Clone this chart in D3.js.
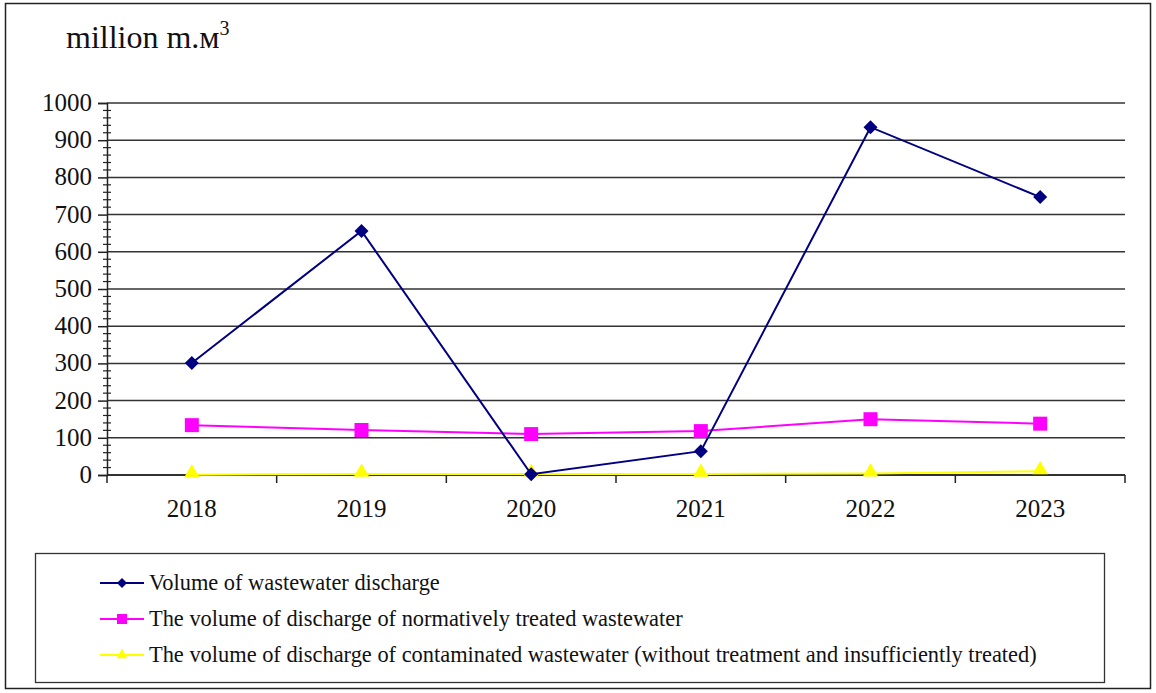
<!DOCTYPE html>
<html><head><meta charset="utf-8"><script src="https://cdn.jsdelivr.net/npm/d3@7"></script></head>
<body style="margin:0">
<svg id="chart" width="1156" height="693" style="font-family:'Liberation Serif'"></svg>
<script>
// Years on the horizontal axis
const years = ["2018", "2019", "2020", "2021", "2022", "2023"];

// Volumes, million m³
const totalDischarge = [301, 656, 2, 64, 935, 747];
const treatedDischarge = [134, 121, 110, 118, 150, 138];
const contaminatedDischarge = [1, 3, 3, 3, 4, 10];

const yTicks = [0, 100, 200, 300, 400, 500, 600, 700, 800, 900, 1000];

const seriesNames = [
  "Volume of wastewater discharge",
  "The volume of discharge of normatively treated wastewater",
  "The volume of discharge of contaminated wastewater (without treatment and insufficiently treated)"
];

const series = [
  { name: seriesNames[0], values: totalDischarge, color: "#000080", symbol: "diamond" },
  { name: seriesNames[1], values: treatedDischarge, color: "#ff00ff", symbol: "square" },
  { name: seriesNames[2], values: contaminatedDischarge, color: "#ffff00", symbol: "triangle" }
];

const FONT = "'Liberation Serif'";
const svg = d3.select("#chart");

// Outer frame
svg.append("rect")
  .attr("x", 5.5).attr("y", 3.5).attr("width", 1145).attr("height", 685)
  .attr("fill", "#fff").attr("stroke", "#222").attr("stroke-width", 1.5);

const plot = { left: 107, right: 1125, top: 103, bottom: 475 };

const x = d3.scaleBand().domain(years).range([plot.left, plot.right]);
const y = d3.scaleLinear().domain([0, 1000]).range([plot.bottom, plot.top]);

// Unit label
const unit = svg.append("text").attr("x", 66).attr("y", 48)
  .style("font-family", FONT).style("font-size", "32px").style("fill", "#111");
unit.append("tspan").text("million m.м");
unit.append("tspan").style("font-size", "20px").attr("dy", -13).text("3");

// Horizontal gridlines
svg.append("g")
  .selectAll("line")
  .data(yTicks)
  .join("line")
  .attr("x1", plot.left).attr("x2", plot.right)
  .attr("y1", d => y(d)).attr("y2", d => y(d))
  .attr("stroke", "#333").attr("stroke-width", 1.5);

// Y axis: ticks from the axis generator, labels placed from the same scale
const yAxis = svg.append("g").attr("transform", `translate(${plot.left},0)`);
yAxis.call(d3.axisLeft(y).tickValues(yTicks).tickSize(9).tickFormat(""))
  .call(g => g.select(".domain").attr("stroke", "#222").attr("stroke-width", 1.5))
  .call(g => g.selectAll(".tick line").attr("stroke", "#222").attr("stroke-width", 1.5));

yAxis.append("g").selectAll("text")
  .data(yTicks)
  .join("text")
  .attr("x", -15)
  .attr("y", d => y(d) + 8)
  .attr("text-anchor", "end")
  .style("font-family", FONT).style("font-size", "25px").style("fill", "#111")
  .text(d => d);

const minor = d3.range(0, 1001, 20).filter(v => v % 100 !== 0);
yAxis.append("g").selectAll("line")
  .data(minor)
  .join("line")
  .attr("x1", -4).attr("x2", 4)
  .attr("y1", d => y(d)).attr("y2", d => y(d))
  .attr("stroke", "#222").attr("stroke-width", 1.2);

// X axis, ticks at category boundaries
const xAxis = svg.append("g").attr("transform", `translate(0,${plot.bottom})`);
xAxis.append("line")
  .attr("x1", plot.left).attr("x2", plot.right)
  .attr("stroke", "#222").attr("stroke-width", 1.5);
const boundaries = years.map(d => x(d)).concat([x(years[years.length - 1]) + x.bandwidth()]);
xAxis.selectAll("line.b")
  .data(boundaries)
  .join("line").attr("class", "b")
  .attr("x1", d => d).attr("x2", d => d)
  .attr("y1", 0).attr("y2", 8)
  .attr("stroke", "#222").attr("stroke-width", 1.5);
xAxis.selectAll("text")
  .data(years)
  .join("text")
  .attr("x", d => x(d) + x.bandwidth() / 2)
  .attr("y", 42)
  .attr("text-anchor", "middle")
  .style("font-family", FONT).style("font-size", "25px").style("fill", "#111")
  .text(d => d);

// Marker shapes, sized in pixels
function markerPath(symbol, r) {
  if (symbol === "diamond") return `M0,${-r}L${r},0L0,${r}L${-r},0Z`;
  if (symbol === "square") return `M${-r},${-r}H${r}V${r}H${-r}Z`;
  return `M0,${-r * 1.05}L${r * 1.1},${r * 0.85}H${-r * 1.1}Z`;
}
const markerR = { diamond: 7, square: 7, triangle: 7 };

const cx = (d, i) => x(years[i]) + x.bandwidth() / 2;
const line = d3.line().x(cx).y(d => y(d));

// Draw series (yellow first so the others sit on top where they overlap)
[series[2], series[1], series[0]].forEach(s => {
  const g = svg.append("g");
  g.append("path")
    .datum(s.values)
    .attr("d", line)
    .attr("fill", "none")
    .attr("stroke", s.color)
    .attr("stroke-width", 2);
  g.selectAll("path.m")
    .data(s.values)
    .join("path").attr("class", "m")
    .attr("transform", (d, i) => `translate(${cx(d, i)},${y(d) + (s.symbol === "triangle" ? -3 : 0)})`)
    .attr("d", markerPath(s.symbol, markerR[s.symbol]))
    .attr("fill", s.color);
});

// Legend
const legend = svg.append("g");
legend.append("rect")
  .attr("x", 35.5).attr("y", 553.5).attr("width", 1069).attr("height", 129)
  .attr("fill", "#fff").attr("stroke", "#333").attr("stroke-width", 1.3);

const rowY = [583, 619, 655];
series.forEach((s, i) => {
  const row = legend.append("g").attr("transform", `translate(0,${rowY[i]})`);
  row.append("line")
    .attr("x1", 100).attr("x2", 144)
    .attr("stroke", s.color).attr("stroke-width", 2);
  row.append("path")
    .attr("transform", `translate(122,${s.symbol === "triangle" ? -1 : 0})`)
    .attr("d", markerPath(s.symbol, 5))
    .attr("fill", s.color);
  row.append("text")
    .attr("x", 149).attr("y", 7)
    .style("font-family", FONT).style("font-size", "22.4px").style("fill", "#111")
    .text(s.name);
});
</script>
</body></html>
